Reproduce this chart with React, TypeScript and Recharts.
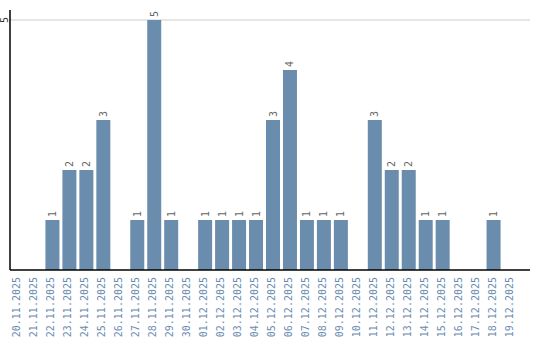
import React from 'react';
import { BarChart, Bar, XAxis, YAxis, CartesianGrid, LabelList } from 'recharts';

const categories = [
  '20.11.2025', '21.11.2025', '22.11.2025', '23.11.2025', '24.11.2025', '25.11.2025',
  '26.11.2025', '27.11.2025', '28.11.2025', '29.11.2025', '30.11.2025', '01.12.2025',
  '02.12.2025', '03.12.2025', '04.12.2025', '05.12.2025', '06.12.2025', '07.12.2025',
  '08.12.2025', '09.12.2025', '10.12.2025', '11.12.2025', '12.12.2025', '13.12.2025',
  '14.12.2025', '15.12.2025', '16.12.2025', '17.12.2025', '18.12.2025', '19.12.2025',
];
const counts = [0, 0, 1, 2, 2, 3, 0, 1, 5, 1, 0, 1, 1, 1, 1, 3, 4, 1, 1, 1, 0, 3, 2, 2, 1, 1, 0, 0, 1, 0];
const yTicks = [5];

const data = categories.map((c, i) => ({ date: c, value: counts[i] }));

const FONT = '"DejaVu Sans Mono", monospace';

const XTick = (props: any) => {
  const { x, payload } = props;
  return (
    <text
      transform={`translate(${x - 1.5},277) rotate(-90)`}
      textAnchor="end"
      dominantBaseline="central"
      fontFamily={FONT}
      fontSize={10}
      fill="#6a8cb0"
    >
      {payload.value}
    </text>
  );
};

const YTick = (props: any) => {
  const { y, payload } = props;
  return (
    <text
      transform={`translate(4,${y}) rotate(-90)`}
      textAnchor="middle"
      dominantBaseline="central"
      fontFamily={FONT}
      fontSize={10}
      fill="#333"
    >
      {payload.value}
    </text>
  );
};

const ValueLabel = (props: any) => {
  const { x, y, width, value } = props;
  if (!value) return null;
  const cx = x + width / 2;
  return (
    <text
      transform={`translate(${cx},${y - 3}) rotate(-90)`}
      textAnchor="start"
      dominantBaseline="central"
      fontFamily={FONT}
      fontSize={10}
      fill="#666"
    >
      {value}
    </text>
  );
};

export default function App() {
  return (
    <div style={{ position: 'absolute', left: 0, top: 0 }}>
      <BarChart
        width={540}
        height={340}
        data={data}
        margin={{ top: 10, right: 10, left: 0, bottom: 0 }}
        barCategoryGap={1.5}
      >
        <CartesianGrid horizontal vertical={false} stroke="#ccc" horizontalValues={yTicks} />
        <XAxis
          dataKey="date"
          interval={0}
          height={70}
          tick={<XTick />}
          tickLine={false}
          axisLine={{ stroke: '#000', strokeWidth: 1.5 }}
          padding={{ left: 0, right: 11 }}
        />
        <YAxis
          width={10}
          domain={[0, 5.2]}
          ticks={yTicks}
          tick={<YTick />}
          tickLine={false}
          axisLine={{ stroke: '#000', strokeWidth: 1.5 }}
          allowDataOverflow
        />
        <Bar dataKey="value" fill="#6a8cad" isAnimationActive={false}>
          <LabelList dataKey="value" content={<ValueLabel />} />
        </Bar>
      </BarChart>
    </div>
  );
}
